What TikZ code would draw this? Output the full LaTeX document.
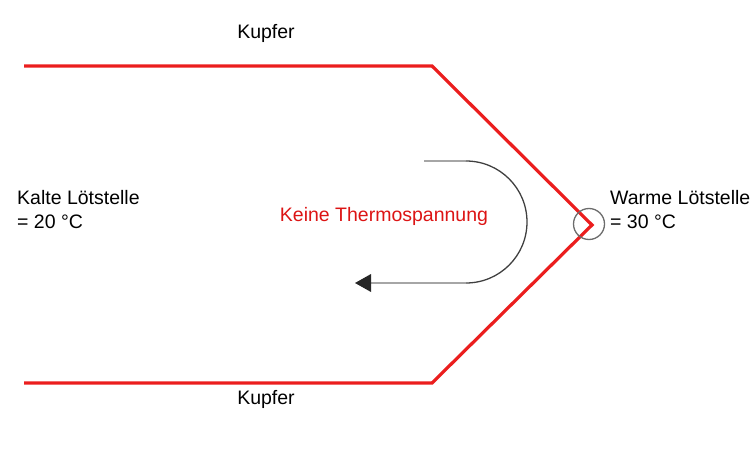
\documentclass[tikz,border=0pt]{standalone}
\usepackage{fontspec}
\setmainfont{Liberation Sans}
\begin{document}
\begin{tikzpicture}[x=1pt,y=-1pt,
  wire/.style={draw={rgb,255:red,235;green,30;blue,30},line width=3.2pt},
  lbl/.style={font=\fontsize{19.5}{24}\selectfont,inner sep=0pt},
  multi/.style={lbl,align=left,anchor=north west}]
\useasboundingbox (0,0) rectangle (756,452);
\coordinate (a) at (24,66); \coordinate (b) at (432,66);
\coordinate (c) at (592,225); \coordinate (d) at (432,383); \coordinate (e) at (24,383);
\draw[wire,line join=miter] (a) -- (b) -- (c) -- (d) -- (e);
\node[draw=gray!85!black,line width=1.3pt,circle,minimum size=31pt,inner sep=0pt] (j) at (589,224) {};
\coordinate (s) at (424,161); \coordinate (t) at (466,161);
\coordinate (u) at (466,283); \coordinate (v) at (355,283);
\draw[gray!70,line width=2pt] (s) -- (t);
\draw[black!75,line width=1.3pt] (t) arc[start angle=-90,end angle=90,radius=61];
\draw[gray!70,line width=2pt] (u) -- (370,283);
\fill[black!85] (v) -- (371,274) -- (371,292) -- cycle;
\node[lbl] (k1) at (266,33) {Kupfer};
\node[lbl] (k2) at (266,399) {Kupfer};
\node[multi] (kl) at (17,190) {Kalte Lötstelle\\= 20 °C};
\node[multi] (wl) at (610,190) {Warme Lötstelle\\= 30 °C};
\node[lbl,text={rgb,255:red,220;green,20;blue,20}] (kt) at (384,216) {Keine Thermospannung};
\end{tikzpicture}
\end{document}
